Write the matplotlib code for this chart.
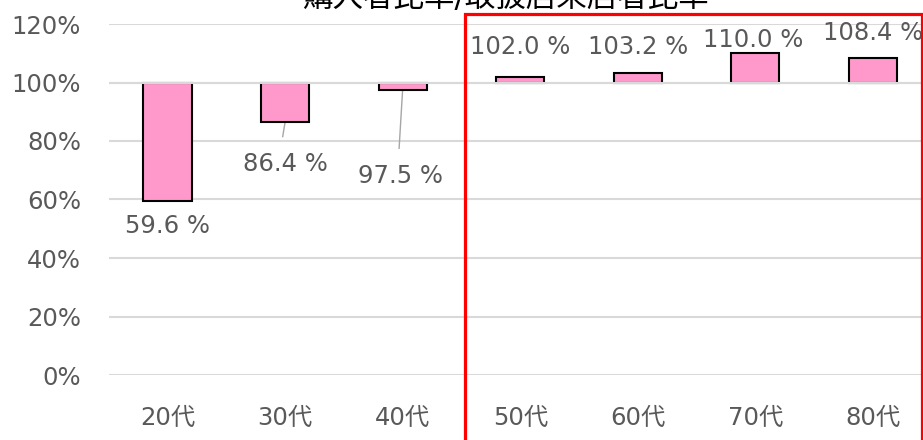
import matplotlib.pyplot as plt
from matplotlib.patches import Rectangle

plt.rcParams['font.family'] = ['DejaVu Sans', 'Noto Sans CJK JP']

ages = ['20代', '30代', '40代', '50代', '60代', '70代', '80代']
ratio = [59.6, 86.4, 97.5, 102.0, 103.2, 110.0, 108.4]
labels = ['59.6 %', '86.4 %', '97.5 %', '102.0 %', '103.2 %', '110.0 %', '108.4 %']
# label positions (x offset, y in %) like the excel callouts
label_pos = [(0.0, 50.9), (0.0, 72.3), (-0.02, 68.0), (0.0, 112.0), (0.0, 112.0), (-0.02, 114.5), (0.0, 116.9)]

fig = plt.figure(figsize=(9.23, 4.40), dpi=100)
ax = fig.add_axes([108.7 / 923, 65 / 440, 823 / 923, 351 / 440])

x = range(len(ages))
heights = [v - 100 for v in ratio]
ax.bar(x, heights, bottom=100, width=0.41, color='#FF99CC', edgecolor='black', linewidth=1.5, zorder=2)
ax.axhline(100, color='#D9D9D9', lw=1.5, zorder=3)

for i, v in enumerate(ratio):
    dx, ly = label_pos[i]
    ax.text(i + dx, ly, labels[i], ha='center', va='center', fontsize=17.5, color='#595959', zorder=4)

# leader lines for the two callouts away from the bar
ax.plot([1.0, 0.98], [86.4, 81.5], color='#A6A6A6', lw=1, zorder=1)
ax.plot([2.0, 1.97], [97.5, 77.5], color='#A6A6A6', lw=1, zorder=1)

ax.set_xlim(-0.5, 6.5)
ax.set_ylim(0, 120)
ax.set_yticks(range(0, 121, 20))
ax.set_yticklabels([f'{t}%' for t in range(0, 121, 20)])
ax.set_xticks(list(x))
ax.set_xticklabels(ages)
ax.tick_params(axis='y', length=0, pad=20, labelsize=17.5, labelcolor='#595959')
ax.tick_params(axis='x', length=0, pad=22, labelsize=17.5, labelcolor='#595959')
ax.yaxis.grid(True, color='#D9D9D9', lw=1.5)
ax.set_axisbelow(True)
for s in ax.spines.values():
    s.set_visible(False)

fig.text(505 / 923, 1 - 7 / 440, '購入者比率/取扱店来店者比率', ha='center', va='baseline',
         fontsize=22, color='black')

fig.patches.append(Rectangle((464.5 / 923, -0.1), (921.5 - 464.5) / 923, (440 - 14.5) / 440 + 0.1,
                             transform=fig.transFigure, fill=False, edgecolor='red', lw=2.3, zorder=10))

fig.savefig('out.png', dpi=100)
